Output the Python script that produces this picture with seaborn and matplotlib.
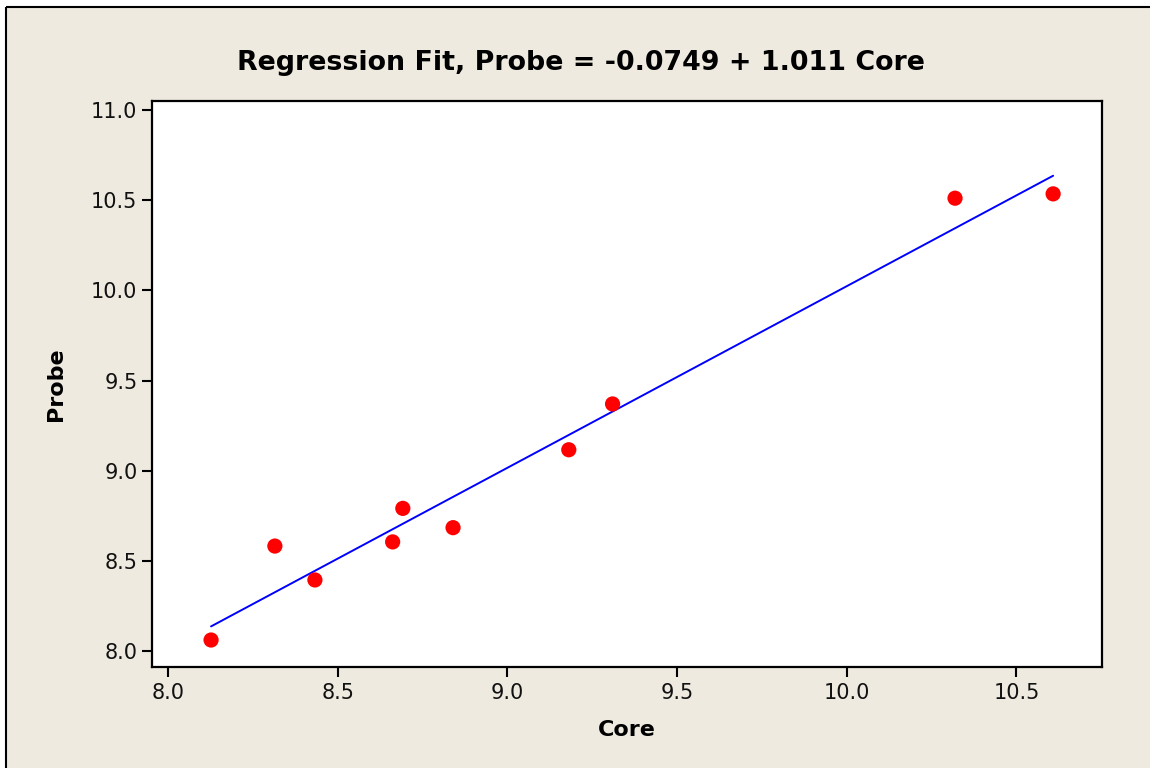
import matplotlib
matplotlib.use("Agg")
import matplotlib.pyplot as plt
from matplotlib.patches import Rectangle
from matplotlib.lines import Line2D
import seaborn as sns
import pandas as pd

core = [8.127, 8.315, 8.433, 8.662, 8.692, 8.840, 9.181, 9.310, 10.319, 10.608]
probe = [8.061, 8.582, 8.394, 8.605, 8.791, 8.684, 9.116, 9.370, 10.511, 10.535]
x_ticks = [8.0, 8.5, 9.0, 9.5, 10.0, 10.5]
y_ticks = [8.0, 8.5, 9.0, 9.5, 10.0, 10.5, 11.0]
title = "Regression Fit, Probe = -0.0749 + 1.011 Core"

df = pd.DataFrame({"Core": core, "Probe": probe})

sns.set_theme(style="white")
plt.rcParams["font.family"] = ["DejaVu Sans"]

bg = "#EEEAE0"
W, H = 1150, 768
fig = plt.figure(figsize=(11.5, 7.68), dpi=100)
fig.patch.set_facecolor(bg)
fig.patch.set_edgecolor(bg)
fig.patch.set_linewidth(0)
# white margin strips at top and left, then the thin black frame lines
fig.add_artist(Rectangle((0, 1 - 7 / H), 1, 7 / H, transform=fig.transFigure,
                         facecolor="white", edgecolor="none", zorder=-5))
fig.add_artist(Rectangle((0, 0), 6 / W, 1, transform=fig.transFigure,
                         facecolor="white", edgecolor="none", zorder=-5))
fig.add_artist(Line2D([6 / W, 1.02], [1 - 7 / H, 1 - 7 / H], transform=fig.transFigure,
                      color="black", linewidth=1.5, solid_capstyle="butt"))
fig.add_artist(Line2D([6 / W, 6 / W], [-0.02, 1 - 7 / H], transform=fig.transFigure,
                      color="black", linewidth=1.5, solid_capstyle="butt"))

ax = fig.add_axes([152 / W, 101.3 / H, 950 / W, 565.7 / H])
ax.set_facecolor("white")

sns.regplot(data=df, x="Core", y="Probe", ax=ax, ci=None,
            scatter_kws=dict(color="#FF0000", s=120, edgecolors="none", alpha=1, zorder=3),
            line_kws=dict(color="#0000FF", linewidth=1.4, zorder=2))

ax.set_xlim(7.953, 10.752)
ax.set_ylim(7.913, 11.05)
ax.set_xticks(x_ticks)
ax.set_yticks(y_ticks)
ax.set_xticklabels([f"{v:.1f}" for v in x_ticks])
ax.set_yticklabels([f"{v:.1f}" for v in y_ticks])

for s in ax.spines.values():
    s.set_visible(True)
    s.set_color("black")
    s.set_linewidth(1.6)

ax.tick_params(axis="both", which="major", direction="out", length=7, width=1.5,
               color="black", labelsize=15, labelcolor="#111111",
               bottom=True, left=True)
ax.tick_params(axis="x", pad=5)
ax.tick_params(axis="y", pad=3.5)

ax.set_xlabel("Core", fontsize=16, fontweight="bold", color="black", labelpad=12)
ax.set_ylabel("Probe", fontsize=16, fontweight="bold", color="black", labelpad=18)

fig.text(581 / W, 1 - 63 / H, title, ha="center", va="center",
         fontsize=19.4, fontweight="bold", color="black")

fig.savefig("out.png", dpi=100, facecolor=bg, edgecolor=bg)
